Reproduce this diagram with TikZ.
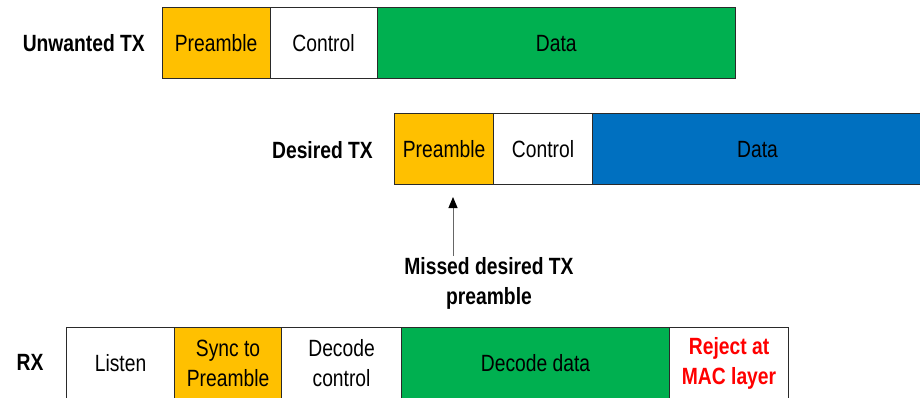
\documentclass[tikz,border=0pt]{standalone}
\usepackage{fontspec}
\setmainfont[FakeStretch=0.82]{Liberation Sans}
\usetikzlibrary{arrows.meta}
\definecolor{orangeC}{HTML}{FFC000}
\definecolor{greenC}{HTML}{00B050}
\definecolor{blueC}{HTML}{0070C0}
\definecolor{redC}{HTML}{FF0000}
\definecolor{edgeC}{HTML}{2A2A2A}
\begin{document}
\begin{tikzpicture}[x=1pt,y=-1pt,
  cell/.style={draw=edgeC, line width=1.1pt, anchor=north west, inner sep=0pt,
    minimum height=71pt, align=center, font=\fontsize{23.5}{30}\selectfont},
  lbl/.style={inner sep=0pt, align=center, font=\fontsize{23.5}{30}\selectfont\bfseries},
  arr/.style={draw=black!60, line width=1pt, -{Triangle[length=11pt,width=9pt,color=black,fill=black]}}]
\useasboundingbox (0,0) rectangle (920,397);
\clip (0,0) rectangle (920,397);
% Unwanted TX
\node[lbl, anchor=east] (ul) at (145,43) {Unwanted TX};
\node[cell, fill=orangeC, minimum width=108pt] (up) at (161.5,7) {Preamble};
\node[cell, fill=white, minimum width=107pt] (uc) at (269.5,7) {Control};
\node[cell, fill=greenC, minimum width=358.5pt] (ud) at (376.5,7) {Data};
% Desired TX
\node[lbl, anchor=east] (dl) at (373,150) {Desired TX};
\node[cell, fill=orangeC, minimum width=99pt] (dp) at (394,113) {Preamble};
\node[cell, fill=white, minimum width=99pt] (dc) at (493,113) {Control};
\node[cell, fill=blueC, minimum width=330pt] (dd) at (592,113) {Data};
% Arrow and label
\node[lbl] (ml) at (489,283) {Missed desired TX\\preamble};
\coordinate (a0) at (453,256);
\coordinate (a1) at (453,197);
\draw[arr] (a0) -- (a1);
% RX
\node[lbl, anchor=center] (rl) at (30,362) {RX};
\node[cell, fill=white, minimum width=108pt] (rli) at (66,327) {Listen};
\node[cell, fill=orangeC, minimum width=107pt] (rs) at (174,327) {Sync to\\Preamble};
\node[cell, fill=white, minimum width=120pt] (rc) at (281,327) {Decode\\control};
\node[cell, fill=greenC, minimum width=268pt] (rd) at (401,327) {Decode data};
\node[cell, fill=white, minimum width=119pt, text=redC, font=\fontsize{23.5}{30}\selectfont\bfseries] (rr) at (669,327) {Reject at\\MAC layer};
\end{tikzpicture}
\end{document}
